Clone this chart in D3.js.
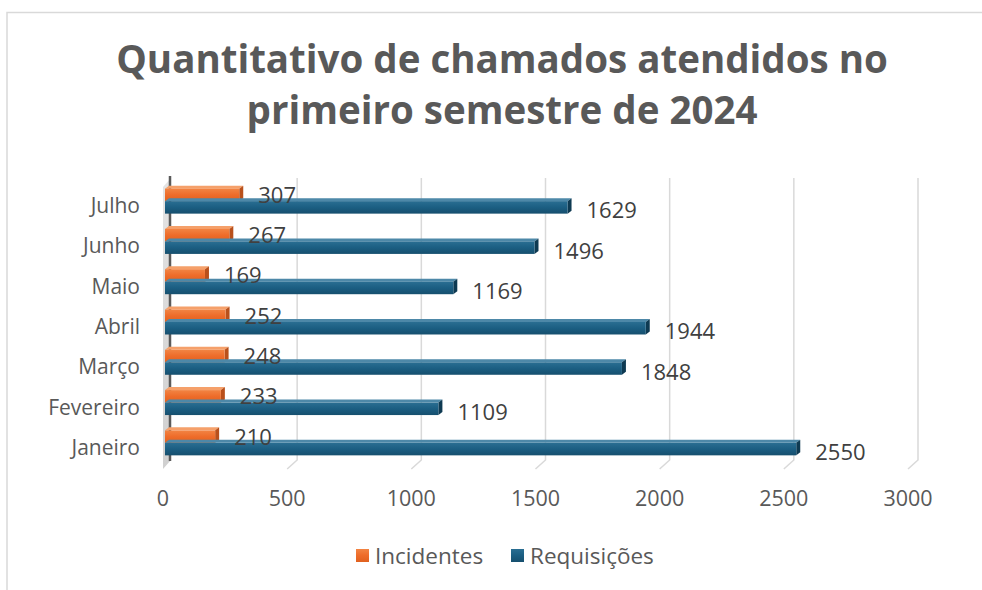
<!DOCTYPE html>
<html><head><meta charset="utf-8">
<script src="https://cdn.jsdelivr.net/npm/d3@7"></script>
<style>body{margin:0;background:#fff}svg{display:block}text{font-family:"Open Sans",Arial,sans-serif}</style>
</head><body><svg id="c" width="982" height="590"></svg>
<script>
const months = ["Janeiro","Fevereiro","Março","Abril","Maio","Junho","Julho"];
const incidentes = [210,233,248,252,169,267,307];
const requisicoes = [2550,1109,1848,1944,1169,1496,1629];
const ticks = [0,500,1000,1500,2000,2500,3000];
const seriesNames = ["Incidentes","Requisições"];
const titleLines = ["Quantitativo de chamados atendidos no","primeiro semestre de 2024"];

const svg = d3.select("#c");
const defs = svg.append("defs");
function grad(id, stops){
  const g = defs.append("linearGradient").attr("id",id).attr("x1",0).attr("y1",0).attr("x2",0).attr("y2",1);
  stops.forEach(s=>g.append("stop").attr("offset",s[0]).attr("stop-color",s[1]));
}
grad("gO",[[0,"#f28443"],[0.5,"#ee6c2a"],[1,"#e0611f"]]);
grad("gB",[[0,"#2a6e92"],[0.5,"#1b5e82"],[1,"#164f6e"]]);
grad("gW",[[0,"#e4e4e4"],[1,"#d0d0d0"]]);

// chart border
svg.append("path").attr("d","M7,590 V12.5 H982").attr("fill","none").attr("stroke","#d9d9d9").attr("stroke-width",1.5);

// title
svg.append("g").selectAll("text").data(titleLines).join("text")
  .attr("x",502).attr("y",(d,i)=>73+i*51).attr("text-anchor","middle")
  .attr("font-size",38.5).attr("font-weight","bold").attr("fill","#595959").text(d=>d);

const x = d3.scaleLinear().domain([0,3000]).range([163,908]);
const y = d3.scaleBand().domain(months.slice().reverse()).range([181,463]).paddingInner(0.38).paddingOuter(0.19);
const bdx = 10, bdy = -9; // back wall offset
const floorY = 469;

// gridlines (3D: back wall vertical + floor diagonal)
svg.append("g").selectAll("path").data(ticks.slice(1)).join("path")
  .attr("d",d=>`M${x(d)+bdx},${178} V${floorY+bdy} L${x(d)},${floorY}`)
  .attr("fill","none").attr("stroke","#d9d9d9").attr("stroke-width",1.5);

// left wall
svg.append("path").attr("d",`M${x(0)},${178-bdy} L${x(0)+bdx-2},${178} V${floorY+bdy} L${x(0)},${floorY} Z`)
  .attr("fill","url(#gW)");
svg.append("path").attr("d",`M${x(0)+bdx-3},${176} V${floorY+bdy+1}`).attr("stroke","#5a5a5a").attr("stroke-width",2.5);

// x tick labels
svg.append("g").selectAll("text").data(ticks).join("text")
  .attr("x",d=>x(d)).attr("y",506).attr("text-anchor","middle")
  .attr("font-size",21.5).attr("fill","#595959").text(d=>d);

// category labels
svg.append("g").selectAll("text").data(months).join("text")
  .attr("x",140).attr("y",d=>y(d)+y.bandwidth()/2+12).attr("text-anchor","end")
  .attr("font-size",21).attr("fill","#595959").text(d=>d);

// bars
const ddx = 4, ddy = -3;
const sub = y.bandwidth()/2;
const series = [
  {name:seriesNames[0], vals:incidentes, front:"url(#gO)", top:"#f5a06a", side:"#b9501b", off:0},
  {name:seriesNames[1], vals:requisicoes, front:"url(#gB)", top:"#4d88a8", side:"#0e3a52", off:1}
];
const gb = svg.append("g");
series.forEach(s=>{
  months.forEach((m,i)=>{
    const v = s.vals[i];
    const x0 = x(0)+2, x1 = x(v);
    const y0 = y(m)+s.off*sub, y1 = y0+sub;
    gb.append("path").attr("d",`M${x0},${y0} L${x0+ddx},${y0+ddy} L${x1+ddx},${y0+ddy} L${x1},${y0} Z`).attr("fill",s.top);
    gb.append("path").attr("d",`M${x1},${y0} L${x1+ddx},${y0+ddy} L${x1+ddx},${y1+ddy} L${x1},${y1} Z`).attr("fill",s.side);
    gb.append("rect").attr("x",x0).attr("y",y0).attr("width",x1-x0).attr("height",sub).attr("fill",s.front);
  });
});
// data labels
series.forEach(s=>{
  svg.append("g").selectAll("text").data(months).join("text")
    .attr("x",(m,i)=>x(s.vals[i])+19)
    .attr("y",m=>y(m)+s.off*sub+sub/2+8+ (s.off?3:0))
    .attr("font-size",22).attr("fill","#404040").text((m,i)=>s.vals[i]);
});

// legend
const leg = [{n:seriesNames[0],c:"url(#gO)",x:356},{n:seriesNames[1],c:"url(#gB)",x:511}];
const lg = svg.append("g");
leg.forEach(l=>{
  lg.append("rect").attr("x",l.x).attr("y",549).attr("width",13).attr("height",13).attr("fill",l.c);
  lg.append("text").attr("x",l.x+19).attr("y",564).attr("font-size",22.5).attr("fill","#595959").text(l.n);
});
</script></body></html>
